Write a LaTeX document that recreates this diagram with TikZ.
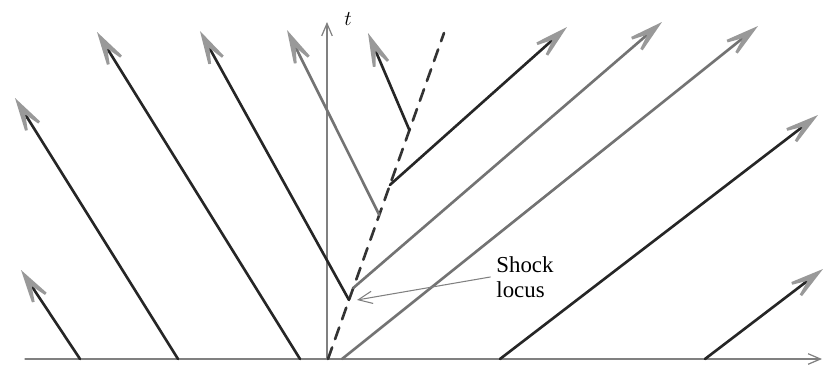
\documentclass[tikz,border=0pt]{standalone}
\usepackage{fontspec}
\setmainfont{Liberation Serif}
\usetikzlibrary{calc, arrows.meta}

\begin{document}
\begin{tikzpicture}[x=0.02cm, y=0.02cm, line cap=round, line join=round,
  ax/.style={gray, line width=0.7pt, -{Straight Barb[length=7pt, width=6pt]}},
  char/.style={line width=1.5pt, black!85, -{Stealth[length=30pt, width=16pt, inset=19pt, color=gray!80, line width=1.6pt]}},
  charg/.style={char, black!55},
  lab/.style={font=\fontsize{13}{14}\selectfont, align=left}]

\useasboundingbox (-327,-24) rectangle (509,359);

% assi
\coordinate (O) at (0,0);
\coordinate (Xa) at (-302,0);
\coordinate (Xb) at (495,0);
\coordinate (Tb) at (0,337);
\draw[ax] (Xa) -- (Xb);
\draw[ax] (O) -- (Tb);
\node[lab] (tl) at (21,340) {$t$};

% linea d'urto
\coordinate (S0) at (1,0);
\coordinate (S1) at (117,326);
\draw[line width=1.5pt, black!80, dash pattern=on 7pt off 5pt] (S0) -- (S1);

% punti sull'urto
\coordinate (P1) at ($(S0)!0.181!(S1)$);
\coordinate (P2) at ($(S0)!0.442!(S1)$);
\coordinate (P3) at ($(S0)!0.702!(S1)$);
\coordinate (Q1) at ($(S0)!0.218!(S1)$);
\coordinate (Q2) at ($(S0)!0.534!(S1)$);

% caratteristiche verso sinistra
\coordinate (A1) at (-247,0);
\coordinate (A2) at (-149,0);
\coordinate (A3) at (-27,0);
\draw[char] (A1) -- (-306,89);
\draw[char] (A2) -- (-312,261);
\draw[char] (A3) -- (-230,327);
\draw[char] (P1) -- (-127,328);
\draw[charg] (P2) -- (-40,329);
\draw[char] (P3) -- (41,326);

% caratteristiche verso destra
\coordinate (B1) at (15,0);
\coordinate (B2) at (173,0);
\coordinate (B3) at (378,0);
\draw[charg] (B1) -- (431,333);
\draw[charg] (Q1) -- (335,337);
\draw[char] (Q2) -- (240,332);
\draw[char] (B2) -- (491,244);
\draw[char] (B3) -- (496,90);

% etichetta
\node[lab] (lbl) at (198,82) {Shock\\locus};
\coordinate (Pt) at ($(P1)+(8,0)$);
\draw[gray, line width=0.6pt, -{Straight Barb[length=8pt, width=7pt]}] (lbl.west) -- (Pt);

\end{tikzpicture}
\end{document}
